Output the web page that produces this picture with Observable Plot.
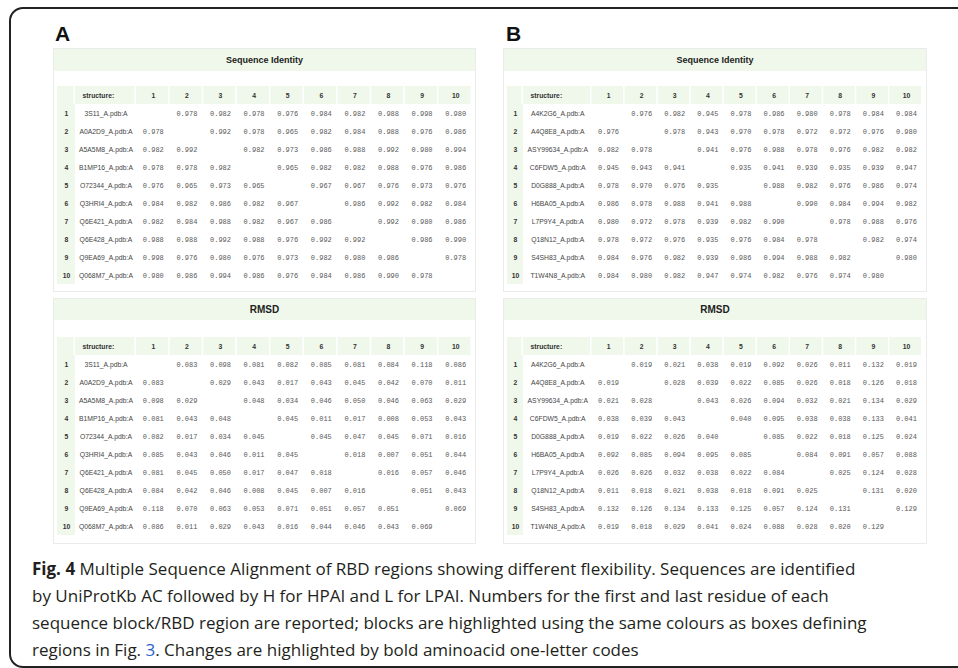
<!DOCTYPE html>
<html><head><meta charset="utf-8">
<script src="https://cdn.jsdelivr.net/npm/d3@7"></script>
<script src="https://cdn.jsdelivr.net/npm/@observablehq/plot@0.6"></script>
<style>
html,body{margin:0;padding:0;background:#fff}
body{width:958px;height:668px;overflow:hidden;position:relative;font-family:"Liberation Sans",Arial,sans-serif}
#frame{position:absolute;left:9px;top:7px;width:980px;height:661px;border:2px solid #222;border-radius:14px;box-sizing:border-box}
.plabel{position:absolute;font:bold 21px/21px "Liberation Sans",Arial,sans-serif;color:#111}
.card{position:absolute;background:#fff;border:1px solid #e9ece8;box-sizing:border-box}
.band{position:absolute;left:0;right:0;top:0;background:#eff8ea;color:#222;font-weight:bold;text-align:center;font-family:"Liberation Sans",Arial,sans-serif}
.tbl{position:absolute}
.tbl svg{display:block;overflow:visible}
#caption{position:absolute;left:32px;top:555px;font-family:"Open Sans",sans-serif;font-size:17px;line-height:27px;color:#231f20;white-space:nowrap}
#caption b{font-weight:bold}
#caption .lnk{color:#2a5ec9}
</style>
</head><body>
<div id="frame"></div>
<div id="root"></div>
<div id="caption"><b>Fig. 4</b> Multiple Sequence Alignment of RBD regions showing different flexibility. Sequences are identified<br>by UniProtKb AC followed by H for HPAI and L for LPAI. Numbers for the first and last residue of each<br>sequence block/RBD region are reported; blocks are highlighted using the same colours as boxes defining<br>regions in Fig. <span class="lnk">3</span>. Changes are highlighted by bold aminoacid one-letter codes</div>
<script>
// ---------- DATA ----------
const columnLabels = ["1","2","3","4","5","6","7","8","9","10"];
const structuresA = ["3S11_A.pdb:A","A0A2D9_A.pdb:A","A5A5M8_A.pdb:A","B1MP16_A.pdb:A","O72344_A.pdb:A","Q3HRI4_A.pdb:A","Q6E421_A.pdb:A","Q6E428_A.pdb:A","Q9EA69_A.pdb:A","Q068M7_A.pdb:A"];
const structuresB = ["A4K2G6_A.pdb:A","A4Q8E8_A.pdb:A","ASY99634_A.pdb:A","C6FDW5_A.pdb:A","D0G888_A.pdb:A","H6BA05_A.pdb:A","L7P9Y4_A.pdb:A","Q18N12_A.pdb:A","S4SH83_A.pdb:A","T1W4N8_A.pdb:A"];
const identityA = [
 [null,.978,.982,.978,.976,.984,.982,.988,.998,.980],
 [.978,null,.992,.978,.965,.982,.984,.988,.976,.986],
 [.982,.992,null,.982,.973,.986,.988,.992,.980,.994],
 [.978,.978,.982,null,.965,.982,.982,.988,.976,.986],
 [.976,.965,.973,.965,null,.967,.967,.976,.973,.976],
 [.984,.982,.986,.982,.967,null,.986,.992,.982,.984],
 [.982,.984,.988,.982,.967,.986,null,.992,.980,.986],
 [.988,.988,.992,.988,.976,.992,.992,null,.986,.990],
 [.998,.976,.980,.976,.973,.982,.980,.986,null,.978],
 [.980,.986,.994,.986,.976,.984,.986,.990,.978,null]
];
const rmsdA = [
 [null,.083,.098,.081,.082,.085,.081,.084,.118,.086],
 [.083,null,.029,.043,.017,.043,.045,.042,.070,.011],
 [.098,.029,null,.048,.034,.046,.050,.046,.063,.029],
 [.081,.043,.048,null,.045,.011,.017,.008,.053,.043],
 [.082,.017,.034,.045,null,.045,.047,.045,.071,.016],
 [.085,.043,.046,.011,.045,null,.018,.007,.051,.044],
 [.081,.045,.050,.017,.047,.018,null,.016,.057,.046],
 [.084,.042,.046,.008,.045,.007,.016,null,.051,.043],
 [.118,.070,.063,.053,.071,.051,.057,.051,null,.069],
 [.086,.011,.029,.043,.016,.044,.046,.043,.069,null]
];
const identityB = [
 [null,.976,.982,.945,.978,.986,.980,.978,.984,.984],
 [.976,null,.978,.943,.970,.978,.972,.972,.976,.980],
 [.982,.978,null,.941,.976,.988,.978,.976,.982,.982],
 [.945,.943,.941,null,.935,.941,.939,.935,.939,.947],
 [.978,.970,.976,.935,null,.988,.982,.976,.986,.974],
 [.986,.978,.988,.941,.988,null,.990,.984,.994,.982],
 [.980,.972,.978,.939,.982,.990,null,.978,.988,.976],
 [.978,.972,.976,.935,.976,.984,.978,null,.982,.974],
 [.984,.976,.982,.939,.986,.994,.988,.982,null,.980],
 [.984,.980,.982,.947,.974,.982,.976,.974,.980,null]
];
const rmsdB = [
 [null,.019,.021,.038,.019,.092,.026,.011,.132,.019],
 [.019,null,.028,.039,.022,.085,.026,.018,.126,.018],
 [.021,.028,null,.043,.026,.094,.032,.021,.134,.029],
 [.038,.039,.043,null,.040,.095,.038,.038,.133,.041],
 [.019,.022,.026,.040,null,.085,.022,.018,.125,.024],
 [.092,.085,.094,.095,.085,null,.084,.091,.057,.088],
 [.026,.026,.032,.038,.022,.084,null,.025,.124,.028],
 [.011,.018,.021,.038,.018,.091,.025,null,.131,.020],
 [.132,.126,.134,.133,.125,.057,.124,.131,null,.129],
 [.019,.018,.029,.041,.024,.088,.028,.020,.129,null]
];
const panelLabels = ["A","B"];
const tableTitles = ["Sequence Identity","RMSD"];
const headerLabel = "structure:";

// ---------- LAYOUT ----------
const GREEN = "#eff8ea";
const ROW_H = 18.85;
const panels = [
  {label:panelLabels[0], labelX:55, cardX:53, cardW:423, tblX:57, colW:33.6, idxU:0.536, strU:1.815, structures:structuresA, tables:[identityA, rmsdA]},
  {label:panelLabels[1], labelX:506, cardX:503, cardW:424, tblX:507, colW:33.1, idxU:0.483, strU:2.07, structures:structuresB, tables:[identityB, rmsdB]}
];
const rowsV = [
  {bandTop:48, bandH:22, headTop:80.5, cardBottom:292, titleSize:9},
  {bandTop:298, bandH:21, headTop:332, cardBottom:544, titleSize:10}
];
const fmt = d3.format(".3f");
const root = document.getElementById("root");

function drawTable(p, values, title, v) {
  const card = document.createElement("div");
  card.className = "card";
  Object.assign(card.style, {left:p.cardX+"px", top:v.bandTop+"px", width:p.cardW+"px", height:(v.cardBottom-v.bandTop)+"px"});
  const band = document.createElement("div");
  band.className = "band";
  Object.assign(band.style, {height:v.bandH+"px", lineHeight:v.bandH+"px", fontSize:v.titleSize+"px"});
  band.textContent = title;
  card.appendChild(band);
  root.appendChild(card);

  const left = -(p.idxU + p.strU);
  const width = (10 - left) * p.colW;
  const height = 11 * ROW_H;
  const rowIds = p.structures.map((_, i) => String(i + 1));
  const yDomain = ["header", ...rowIds];

  const headerCells = [
    {label:"", x1:left, x2:-p.strU},
    {label:headerLabel, x1:-p.strU, x2:0},
    ...columnLabels.map((c, j) => ({label:c, x1:j, x2:j + 1}))
  ];
  const rowsData = p.structures.map((s, i) => ({id:rowIds[i], name:s}));
  const cells = [];
  values.forEach((row, i) => row.forEach((val, j) => {
    if (val != null) cells.push({row:rowIds[i], col:j, v:val});
  }));

  const chart = Plot.plot({
    width, height, margin:0,
    x:{domain:[left, 10], range:[0, width], axis:null},
    y:{type:"band", domain:yDomain, range:[0, height], padding:0, axis:null},
    style:{background:"transparent", overflow:"visible"},
    marks:[
      Plot.barX(headerCells, {x1:"x1", x2:"x2", y:() => "header", fill:GREEN, insetRight:1.5}),
      Plot.barX(rowsData, {x1:left, x2:-p.strU, y:"id", fill:GREEN}),
      Plot.text(headerCells.slice(2), {x:d => (d.x1 + d.x2) / 2, y:() => "header", text:"label", fontWeight:"bold", fontSize:6.8, fontFamily:"Liberation Sans", fill:"#333"}),
      Plot.text(headerCells.slice(1, 2), {x:"x1", y:() => "header", text:"label", textAnchor:"start", dx:7, fontWeight:"bold", fontSize:6.8, fontFamily:"Liberation Sans", fill:"#333"}),
      Plot.text(rowsData, {x:(left - p.strU) / 2, y:"id", text:"id", fontWeight:"bold", fontSize:6.8, fontFamily:"Liberation Sans", fill:"#333"}),
      Plot.text(rowsData, {x:-p.strU / 2, y:"id", text:"name", fontSize:6.8, fontFamily:"Liberation Sans", fill:"#444"}),
      Plot.text(cells, {x:d => d.col + 0.5, y:"row", text:d => fmt(d.v), fontSize:7, fontFamily:"Liberation Mono", fill:"#5a5a5a"})
    ]
  });
  const holder = document.createElement("div");
  holder.className = "tbl";
  Object.assign(holder.style, {left:p.tblX+"px", top:v.headTop+"px"});
  holder.appendChild(chart);
  root.appendChild(holder);
}

panels.forEach(p => {
  const lab = document.createElement("div");
  lab.className = "plabel";
  lab.textContent = p.label;
  Object.assign(lab.style, {left:p.labelX+"px", top:"23px"});
  root.appendChild(lab);
  p.tables.forEach((t, k) => drawTable(p, t, tableTitles[k], rowsV[k]));
});
</script>
</body></html>
